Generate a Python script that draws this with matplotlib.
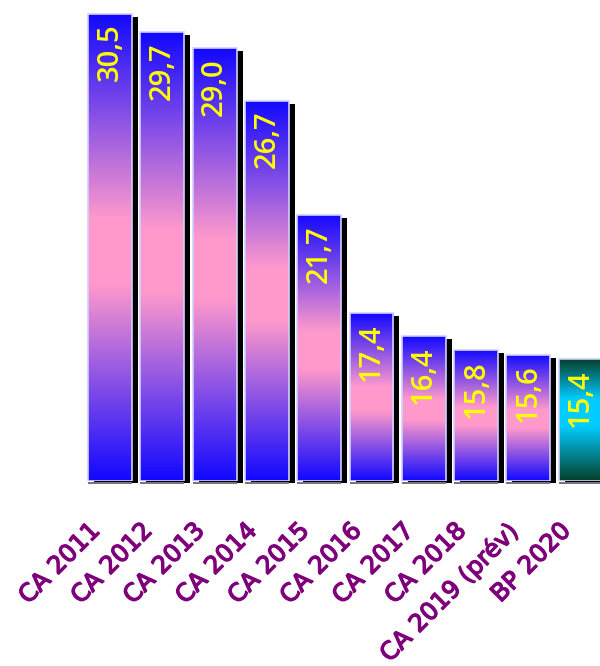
import numpy as np
import matplotlib
matplotlib.use("Agg")
import matplotlib.pyplot as plt
import matplotlib.transforms as mtransforms
import matplotlib.patheffects as pe
from matplotlib.colors import LinearSegmentedColormap
from matplotlib.patches import Rectangle

categories = ["CA 2011", "CA 2012", "CA 2013", "CA 2014", "CA 2015", "CA 2016",
              "CA 2017", "CA 2018", "CA 2019 (prév)", "BP 2020"]
values = [30.5, 29.7, 29.0, 26.7, 21.7, 17.4, 16.4, 15.8, 15.6, 15.4]
labels = ["30,5", "29,7", "29,0", "26,7", "21,7", "17,4", "16,4", "15,8", "15,6", "15,4"]

W, H = 600, 666
fig = plt.figure(figsize=(W / 100, H / 100), dpi=100)
ax = fig.add_axes([80 / W, (H - 481) / H, 520 / W, 481 / H])
y0, y1 = 10.07, 31.1
ax.set_ylim(y0, y1)
ax.set_xlim(-0.574, 9.369)
ax.axis("off")
px = (y1 - y0) / 481.0

cmap_main = LinearSegmentedColormap.from_list(
    "m", [(0, "#1208FF"), (0.44, "#FF99CC"), (0.58, "#FF99CC"), (1, "#1208FF")])
cmap_last = LinearSegmentedColormap.from_list(
    "l", [(0, "#06402C"), (0.33, "#00CCFF"), (0.55, "#00CCFF"), (1, "#06402C")])
grad = np.linspace(0, 1, 256).reshape(-1, 1)

bw = 0.84
shadow_tr = ax.transData + mtransforms.ScaledTranslation(6 / 100, 0, fig.dpi_scale_trans)
for i, v in enumerate(values):
    ax.add_patch(Rectangle((i - bw / 2, y0 - 2 * px), bw, v - y0 - 1 * px, facecolor="black",
                           edgecolor="none", transform=shadow_tr, clip_on=False, zorder=1))
    ax.add_patch(Rectangle((i - bw / 2, y0 - 2.5 * px), bw, 1.2 * px, facecolor="#777777",
                           edgecolor="none", clip_on=False, zorder=1))
    rect = Rectangle((i - bw / 2, y0), bw, v - y0, facecolor="none",
                     edgecolor="#D0D0FF", linewidth=1.2, zorder=3)
    ax.add_patch(rect)
    cm = cmap_last if i == len(values) - 1 else cmap_main
    im = ax.imshow(grad, extent=(i - bw / 2, i + bw / 2, y0, v), aspect="auto",
                   cmap=cm, origin="upper", zorder=2, interpolation="bilinear")
    im.set_clip_path(rect)
    ax.text(i, v - 10 * px, labels[i], rotation=90, ha="center", va="top",
            color="#FFFF00", fontsize=21, fontweight="semibold", family="Open Sans", zorder=4)

for i, c in enumerate(categories):
    off = mtransforms.ScaledTranslation(-14 / 100, -46 / 100, fig.dpi_scale_trans)
    ax.text(i, y0, c, rotation=45, rotation_mode="anchor", ha="right", va="center",
            color="#7D007A", fontsize=17.5, family="DejaVu Sans",
            transform=ax.transData + off, clip_on=False,
            path_effects=[pe.withStroke(linewidth=1.0, foreground="#7D007A")])

ax.set_aspect("auto")
fig.savefig("out.png", dpi=100)
